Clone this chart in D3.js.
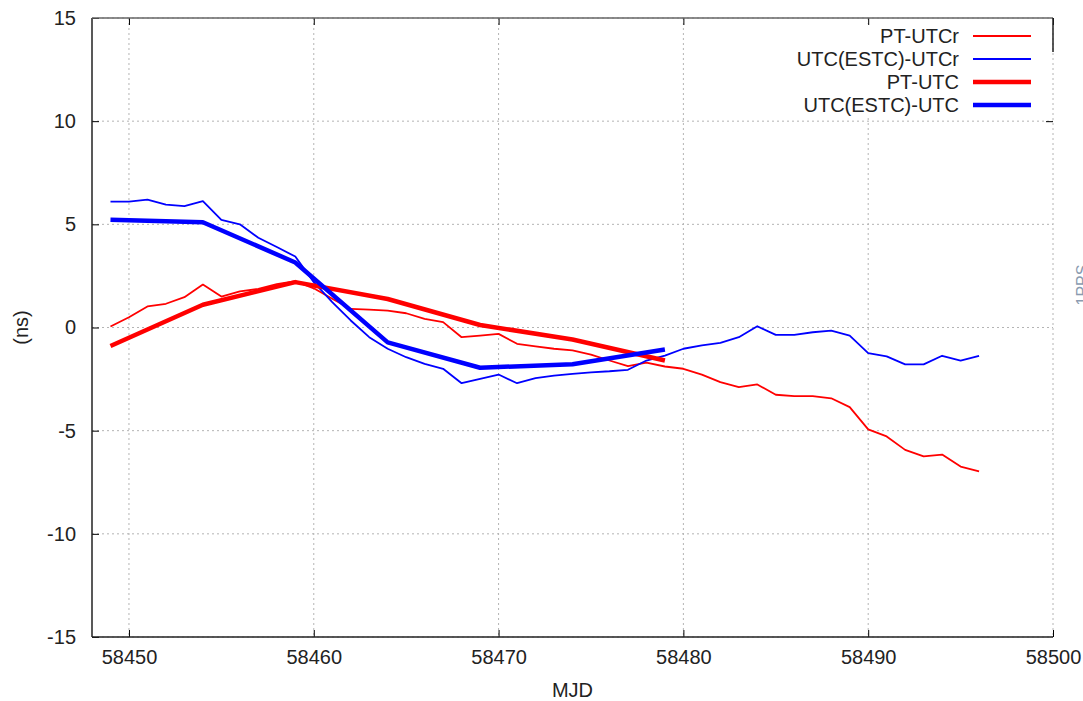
<!DOCTYPE html>
<html>
<head>
<meta charset="utf-8">
<script src="https://cdn.jsdelivr.net/npm/d3@7"></script>
<style>
  body { margin: 0; background: #fff; }
  svg { font-family: "Liberation Sans", Arial, sans-serif; }
</style>
</head>
<body>
<svg id="chart" width="1083" height="701"></svg>
<script>
const firstDay = 58449;
// daily values (ns), MJD 58449..58496
const ptUtcr = [
  0.05, 0.5, 1.02, 1.15, 1.47, 2.08, 1.5, 1.75, 1.87, 2.1, 2.25, 1.9,
  1.39, 0.9, 0.87, 0.82, 0.69, 0.42, 0.26, -0.47, -0.39, -0.31,
  -0.79, -0.92, -1.03, -1.11, -1.31, -1.6, -1.87, -1.7, -1.89, -2.0,
  -2.28, -2.65, -2.89, -2.76, -3.26, -3.33, -3.33, -3.43, -3.86, -4.94,
  -5.28, -5.93, -6.25, -6.16, -6.74, -6.97
];
const estcUtcr = [
  6.1, 6.1, 6.2, 5.96, 5.88, 6.12, 5.22, 5.0, 4.35, 3.9, 3.44, 2.2,
  1.23, 0.34, -0.47, -1.03, -1.44, -1.76, -2.0, -2.7, -2.49, -2.28,
  -2.7, -2.45, -2.33, -2.25, -2.17, -2.12, -2.05, -1.6, -1.36, -1.03,
  -0.87, -0.74, -0.47, 0.06, -0.36, -0.36, -0.23, -0.15, -0.39, -1.24,
  -1.4, -1.79, -1.79, -1.37, -1.6, -1.37
];
// 5-day values
const fiveDayMjd = [58449, 58454, 58459, 58464, 58469, 58474, 58479];
const ptUtc = [-0.9, 1.1, 2.2, 1.38, 0.12, -0.58, -1.6];
const estcUtc = [5.22, 5.1, 3.15, -0.72, -1.95, -1.78, -1.07];

const xTicks = [58450, 58460, 58470, 58480, 58490, 58500];
const yTicks = [-15, -10, -5, 0, 5, 10, 15];

const series = [
  { name: "PT-UTCr", color: "#ff0000", width: 1.8, mjd: ptUtcr.map((d, i) => firstDay + i), vals: ptUtcr },
  { name: "UTC(ESTC)-UTCr", color: "#0000ff", width: 1.8, mjd: estcUtcr.map((d, i) => firstDay + i), vals: estcUtcr },
  { name: "PT-UTC", color: "#ff0000", width: 4.5, mjd: fiveDayMjd, vals: ptUtc },
  { name: "UTC(ESTC)-UTC", color: "#0000ff", width: 4.5, mjd: fiveDayMjd, vals: estcUtc },
];

const svg = d3.select("#chart");
const margin = { top: 18, right: 30, bottom: 64, left: 92 };
const width = 1083, height = 701;
const fontSize = 20;

const x = d3.scaleLinear().domain([58448, 58500]).range([margin.left, width - margin.right]);
const y = d3.scaleLinear().domain([-15, 15]).range([height - margin.bottom, margin.top]);

// grid
const grid = svg.append("g").attr("stroke", "#b4b4b4").attr("stroke-width", 1).attr("stroke-dasharray", "2,3");
grid.selectAll(".gx").data(xTicks).join("line")
  .attr("x1", (d) => x(d)).attr("x2", (d) => x(d))
  .attr("y1", y(15)).attr("y2", y(-15));
grid.selectAll(".gy").data(yTicks).join("line")
  .attr("x1", x(58448)).attr("x2", x(58500))
  .attr("y1", (d) => y(d)).attr("y2", (d) => y(d));

// lines
const line = d3.line().x((d) => x(d[0])).y((d) => y(d[1]));
series.forEach((s) => {
  svg.append("path")
    .datum(s.mjd.map((m, i) => [m, s.vals[i]]))
    .attr("fill", "none")
    .attr("stroke", s.color)
    .attr("stroke-width", s.width)
    .attr("stroke-linejoin", "round")
    .attr("d", line);
});

// legend
svg.append("rect")
  .attr("x", 775).attr("y", 24).attr("width", 276).attr("height", 92)
  .attr("fill", "#fff");
const legend = svg.append("g");
series.forEach((s, i) => {
  const ly = 36 + i * 23;
  legend.append("text")
    .attr("x", 959).attr("y", ly).attr("dy", "0.35em")
    .attr("text-anchor", "end")
    .attr("font-size", fontSize).attr("fill", "#222")
    .text(s.name);
  legend.append("line")
    .attr("x1", 973).attr("x2", 1031)
    .attr("y1", ly).attr("y2", ly)
    .attr("stroke", s.color).attr("stroke-width", s.width);
});

// axes with inward ticks
const styleAxis = (g) => {
  g.select(".domain").remove();
  g.selectAll(".tick line").attr("stroke", "#000");
  g.selectAll(".tick text").attr("font-size", fontSize).attr("fill", "#222")
    .attr("font-family", "Liberation Sans, Arial, sans-serif");
};
const plain = (d) => String(d);

svg.append("g")
  .attr("transform", `translate(${x(58448)},0)`)
  .call(d3.axisLeft(y).tickValues(yTicks).tickSize(-7).tickPadding(16).tickFormat(plain))
  .call(styleAxis);

svg.append("g")
  .attr("transform", `translate(0,${y(-15)})`)
  .call(d3.axisBottom(x).tickValues(xTicks).tickSize(-7).tickPadding(13).tickFormat(plain))
  .call(styleAxis);

svg.append("g")
  .attr("transform", `translate(0,${y(15)})`)
  .call(d3.axisTop(x).tickValues(xTicks).tickSize(-7).tickFormat(""))
  .call(styleAxis);

svg.append("g")
  .attr("transform", `translate(${x(58500)},0)`)
  .call(d3.axisRight(y).tickValues([10]).tickSize(-7).tickFormat(""))
  .call(styleAxis);

// frame (right side only visible at the top)
const frame = svg.append("g").attr("stroke", "#222").attr("stroke-width", 1.5).attr("fill", "none");
frame.append("line").attr("x1", x(58448)).attr("x2", x(58448)).attr("y1", y(15)).attr("y2", y(-15));
frame.append("line").attr("x1", x(58448)).attr("x2", x(58500)).attr("y1", y(-15)).attr("y2", y(-15));
frame.append("line").attr("x1", x(58448)).attr("x2", x(58500)).attr("y1", y(15)).attr("y2", y(15)).attr("stroke", "#666");
frame.append("line").attr("x1", x(58500)).attr("x2", x(58500)).attr("y1", y(15)).attr("y2", 52);

// axis titles
svg.append("text")
  .attr("x", (x(58448) + x(58500)) / 2).attr("y", 697)
  .attr("text-anchor", "middle").attr("font-size", fontSize).attr("fill", "#222")
  .text("MJD");
svg.append("text")
  .attr("transform", `translate(21,${y(0)}) rotate(-90)`)
  .attr("text-anchor", "middle").attr("dy", "0.35em")
  .attr("font-size", fontSize).attr("fill", "#222")
  .text("(ns)");

// second-axis label, cut by the right edge as in the source image
svg.append("text")
  .attr("transform", `translate(1088,285) rotate(-90)`)
  .attr("text-anchor", "middle").attr("font-size", 16).attr("fill", "#8a9bb0")
  .text("1PPS");
</script>
</body>
</html>
